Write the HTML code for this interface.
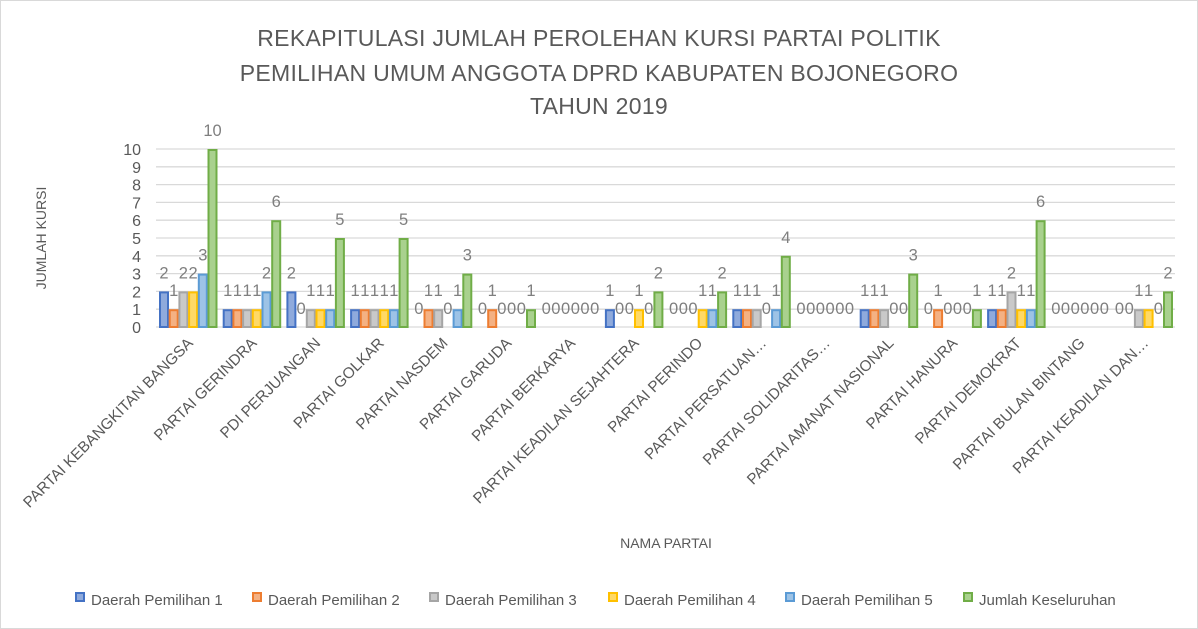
<!DOCTYPE html>
<html><head><meta charset="utf-8"><style>
html,body{margin:0;padding:0;background:#fff}
svg{display:block;font-family:"Liberation Sans",sans-serif}
</style></head><body>
<svg id="s" width="1198" height="629" xmlns="http://www.w3.org/2000/svg">
<rect x="0.5" y="0.5" width="1197" height="628" fill="#fff" stroke="#d9d9d9"/>
<g fill="#595959" font-size="23" text-anchor="middle" letter-spacing="0.3">
<text x="599" y="46">REKAPITULASI JUMLAH PEROLEHAN KURSI PARTAI POLITIK</text>
<text x="599" y="81">PEMILIHAN UMUM ANGGOTA DPRD KABUPATEN BOJONEGORO</text>
<text x="599" y="114">TAHUN 2019</text>
</g>
<text transform="translate(46,238) rotate(-90)" text-anchor="middle" fill="#595959" font-size="14">JUMLAH KURSI</text>
<text x="666" y="548" text-anchor="middle" fill="#595959" font-size="14">NAMA PARTAI</text>
<g id="g"></g>
</svg>
<script>
var g=document.getElementById('g'),h='';
var y0=327,u=17.8;
for(var i=0;i<=10;i++){var y=y0-i*u;h+='<line x1="156" x2="1175" y1="'+y+'" y2="'+y+'" stroke="#d9d9d9" stroke-width="1.3"/>';
h+='<text x="141" y="'+(y+6)+'" text-anchor="end" font-size="16" fill="#595959">'+i+'</text>';}
var names=["PARTAI KEBANGKITAN BANGSA","PARTAI GERINDRA","PDI PERJUANGAN","PARTAI GOLKAR","PARTAI NASDEM","PARTAI GARUDA","PARTAI BERKARYA","PARTAI KEADILAN SEJAHTERA","PARTAI PERINDO","PARTAI PERSATUAN…","PARTAI SOLIDARITAS…","PARTAI AMANAT NASIONAL","PARTAI HANURA","PARTAI DEMOKRAT","PARTAI BULAN BINTANG","PARTAI KEADILAN DAN…"];
var d=[[2,1,2,2,3,10],[1,1,1,1,2,6],[2,0,1,1,1,5],[1,1,1,1,1,5],[0,1,1,0,1,3],[0,1,0,0,0,1],[0,0,0,0,0,0],[1,0,0,1,0,2],[0,0,0,1,1,2],[1,1,1,0,1,4],[0,0,0,0,0,0],[1,1,1,0,0,3],[0,1,0,0,0,1],[1,1,2,1,1,6],[0,0,0,0,0,0],[0,0,1,1,0,2]];
var F=["#8faadc","#f4b183","#c9c9c9","#ffd966","#9dc3e6","#a9d18e"],S=["#4472c4","#ed7d31","#a5a5a5","#ffc000","#5b9bd5","#70ad47"];
var cw=63.7;
for(var i=0;i<16;i++){var c=156+i*cw;
for(var j=0;j<6;j++){var v=d[i][j],x=c+3.5+j*9.7;
if(v>0)h+='<rect x="'+(x+0.5)+'" y="'+(y0-v*u+1)+'" width="8" height="'+(v*u-1)+'" fill="'+F[j]+'" stroke="'+S[j]+'" stroke-width="2"/>';
h+='<text x="'+(x+4.5)+'" y="'+(y0-v*u-13)+'" text-anchor="middle" font-size="16.5" fill="#7f7f7f">'+v+'</text>';}
var cx=c+cw/2+6;
h+='<text transform="translate('+cx+',344) rotate(-45)" text-anchor="end" font-size="15.3" fill="#595959">'+names[i]+'</text>';}
var L=["Daerah Pemilihan 1","Daerah Pemilihan 2","Daerah Pemilihan 3","Daerah Pemilihan 4","Daerah Pemilihan 5","Jumlah Keseluruhan"],lx=[75,252,429,608,785,963];
for(var j=0;j<6;j++){h+='<rect x="'+(lx[j]+1)+'" y="593" width="8" height="8" fill="'+F[j]+'" stroke="'+S[j]+'" stroke-width="2"/>';
h+='<text x="'+(lx[j]+16)+'" y="605" font-size="15" fill="#595959">'+L[j]+'</text>';}
g.innerHTML=h;
</script>
</body></html>
